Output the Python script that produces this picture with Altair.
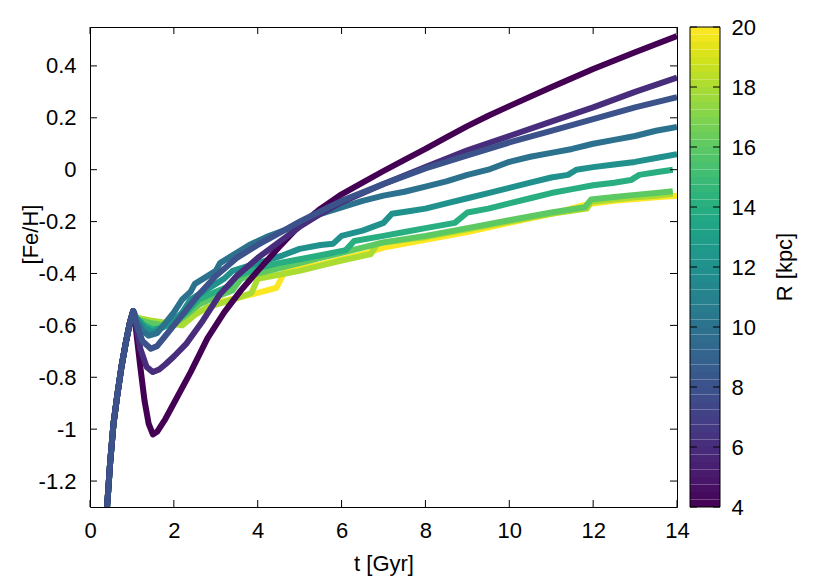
import altair as alt
import pandas as pd

# ---------------- data ----------------
RISE_T = [0.36, 0.42, 0.48, 0.56, 0.65, 0.75, 0.85, 0.95, 1.03]
RISE_FEH = [-1.40, -1.27, -1.13, -0.98, -0.87, -0.76, -0.67, -0.59, -0.545]

T_R4 = [1.1, 1.2, 1.3, 1.4, 1.5, 1.6, 1.8, 2.0, 2.4, 2.8, 3.2, 3.6, 4.0, 4.5, 5.0, 5.5,
        6.0, 6.5, 7.0, 7.5, 8.0, 8.5, 9.0, 9.5, 10.0, 11.0, 12.0, 13.0, 14.0]
FEH_R4 = [-0.62, -0.76, -0.89, -0.98, -1.02, -1.01, -0.96, -0.90, -0.78, -0.65, -0.55, -0.465,
          -0.39, -0.30, -0.215, -0.15, -0.095, -0.05, -0.005, 0.038, 0.08, 0.125, 0.168,
          0.208, 0.245, 0.318, 0.388, 0.453, 0.515]

T_R6 = [1.1, 1.2, 1.35, 1.5, 1.65, 1.8, 2.0, 2.3, 2.7, 3.1, 3.5, 4.0, 4.5, 5.0, 5.5, 6.0,
        7.0, 8.0, 9.0, 10.0, 11.0, 12.0, 13.0, 14.0]
FEH_R6 = [-0.60, -0.69, -0.76, -0.78, -0.77, -0.75, -0.72, -0.67, -0.58, -0.48, -0.41, -0.34,
          -0.28, -0.22, -0.17, -0.125, -0.055, 0.01, 0.075, 0.13, 0.185, 0.24, 0.30, 0.355]

T_R8 = [1.1, 1.25, 1.45, 1.6, 1.8, 2.0, 2.3, 2.6, 3.0, 3.5, 4.0, 4.5, 5.0, 5.5, 6.0, 7.0,
        8.0, 9.0, 10.0, 11.0, 12.0, 13.0, 14.0]
FEH_R8 = [-0.59, -0.66, -0.69, -0.68, -0.64, -0.60, -0.54, -0.48, -0.41, -0.34, -0.29, -0.245,
          -0.20, -0.16, -0.12, -0.055, 0.005, 0.055, 0.105, 0.15, 0.195, 0.24, 0.28]

T_R10 = [1.1, 1.25, 1.4, 1.6, 1.8, 2.0, 2.2, 2.4, 2.5, 2.8, 3.0, 3.1, 3.4, 3.8, 4.2, 4.6,
         5.0, 5.5, 6.0, 6.5, 7.0, 7.5, 8.0, 8.5, 9.0, 9.5, 10.0, 10.5, 11.0, 11.5, 12.0,
         12.5, 13.0, 13.5, 14.0]
FEH_R10 = [-0.58, -0.62, -0.64, -0.63, -0.59, -0.55, -0.50, -0.47, -0.44, -0.41, -0.39, -0.36,
           -0.33, -0.29, -0.26, -0.235, -0.21, -0.17, -0.145, -0.12, -0.10, -0.085, -0.065,
           -0.045, -0.02, 0.0, 0.03, 0.05, 0.065, 0.08, 0.10, 0.115, 0.13, 0.15, 0.165]

T_R12 = [1.1, 1.3, 1.5, 1.7, 2.0, 2.2, 2.4, 2.7, 3.0, 3.2, 3.4, 3.8, 4.2, 4.6, 5.0, 5.5,
         5.8, 6.0, 6.5, 7.0, 7.2, 7.6, 8.0, 8.5, 9.0, 9.5, 10.0, 10.5, 11.0, 11.4, 11.6,
         12.0, 12.5, 13.0, 13.5, 14.0]
FEH_R12 = [-0.57, -0.61, -0.625, -0.61, -0.58, -0.55, -0.50, -0.47, -0.44, -0.42, -0.39,
           -0.37, -0.35, -0.33, -0.305, -0.29, -0.285, -0.255, -0.235, -0.205, -0.17, -0.16,
           -0.15, -0.13, -0.11, -0.09, -0.07, -0.05, -0.03, -0.02, 0.0, 0.01, 0.02, 0.03,
           0.045, 0.06]

T_R14 = [1.1, 1.3, 1.5, 1.7, 2.0, 2.3, 2.6, 3.0, 3.3, 3.5, 4.0, 4.5, 5.0, 5.5, 6.1, 6.3,
         7.0, 7.5, 8.0, 8.7, 9.0, 9.5, 10.0, 10.5, 11.0, 11.5, 12.0, 12.5, 12.9, 13.1,
         13.5, 13.9]
FEH_R14 = [-0.57, -0.60, -0.615, -0.61, -0.59, -0.55, -0.50, -0.47, -0.45, -0.41, -0.38,
           -0.36, -0.345, -0.33, -0.31, -0.275, -0.255, -0.24, -0.225, -0.205, -0.165,
           -0.15, -0.13, -0.11, -0.09, -0.075, -0.06, -0.05, -0.04, -0.02, -0.01, 0.0]

T_R16 = [1.1, 1.4, 1.8, 2.0, 2.3, 2.6, 3.0, 3.4, 3.6, 4.0, 4.5, 5.0, 5.5, 6.0, 6.5, 7.0,
         8.0, 9.0, 10.0, 11.0, 11.8, 11.95, 12.5, 13.0, 13.5, 13.9]
FEH_R16 = [-0.575, -0.59, -0.60, -0.595, -0.56, -0.52, -0.49, -0.465, -0.42, -0.40, -0.38,
           -0.36, -0.34, -0.32, -0.30, -0.28, -0.255, -0.225, -0.195, -0.165, -0.145,
           -0.115, -0.105, -0.097, -0.09, -0.083]

T_R18 = [1.1, 1.4, 1.8, 2.2, 2.5, 2.8, 3.2, 3.6, 3.85, 4.0, 4.5, 5.0, 5.5, 6.0, 6.7, 6.85,
         7.5, 8.0, 9.0, 10.0, 11.0, 11.85, 11.95, 12.5, 13.0, 13.5, 13.9]
FEH_R18 = [-0.57, -0.58, -0.59, -0.60, -0.56, -0.53, -0.51, -0.49, -0.475, -0.42, -0.405,
           -0.39, -0.37, -0.35, -0.325, -0.285, -0.27, -0.26, -0.23, -0.20, -0.17, -0.15,
           -0.125, -0.115, -0.106, -0.10, -0.093]

T_R20 = [1.1, 1.5, 2.0, 2.3, 2.7, 3.1, 3.6, 4.0, 4.45, 4.65, 5.0, 5.5, 6.0, 6.5, 7.0, 8.0,
         9.0, 10.0, 11.0, 11.7, 12.0, 12.5, 13.0, 13.5, 14.0]
FEH_R20 = [-0.57, -0.585, -0.60, -0.57, -0.54, -0.51, -0.49, -0.475, -0.455, -0.39, -0.38,
           -0.365, -0.345, -0.325, -0.30, -0.27, -0.24, -0.205, -0.17, -0.14, -0.13, -0.12,
           -0.113, -0.106, -0.10]

SERIES = {
    4: (T_R4, FEH_R4), 6: (T_R6, FEH_R6), 8: (T_R8, FEH_R8), 10: (T_R10, FEH_R10),
    12: (T_R12, FEH_R12), 14: (T_R14, FEH_R14), 16: (T_R16, FEH_R16),
    18: (T_R18, FEH_R18), 20: (T_R20, FEH_R20),
}
DRAW_ORDER = [20, 18, 16, 14, 12, 10, 4, 6, 8]

X_TICKS = [0, 2, 4, 6, 8, 10, 12, 14]
Y_TICKS = [-1.2, -1, -0.8, -0.6, -0.4, -0.2, 0, 0.2, 0.4]
CB_TICKS = [4, 6, 8, 10, 12, 14, 16, 18, 20]
R_MIN, R_MAX = 4, 20
CB_STEP = 0.25

# ---------------- tables ----------------
rows = []
for r, (ts, fs) in SERIES.items():
    for t, f in zip(RISE_T + ts, RISE_FEH + fs):
        rows.append({"t": t, "feh": f, "R": r})
df_lines = pd.DataFrame(rows)

n_bins = int((R_MAX - R_MIN) / CB_STEP)
df_cb = pd.DataFrame({
    "r0": [R_MIN + i * CB_STEP for i in range(n_bins)],
    "r1": [R_MIN + (i + 1) * CB_STEP for i in range(n_bins)],
    "R": [R_MIN + (i + 0.5) * CB_STEP for i in range(n_bins)],
})
df_xt = pd.DataFrame({"t": X_TICKS})
df_yt = pd.DataFrame({"feh": Y_TICKS})
df_cbt = pd.DataFrame({"r0": CB_TICKS})
df_one = pd.DataFrame({"k": [0]})

W, H = 587, 480
FONT = "Liberation Sans"
FS = 22
TICK = 7
CB_X0, CB_X1 = 600, 630

x_scale = alt.Scale(domain=[0, 14], nice=False, zero=False)
y_scale = alt.Scale(domain=[-1.3, 0.55], nice=False, zero=False)
cb_scale = alt.Scale(domain=[R_MIN, R_MAX], nice=False, zero=False)
color_scale = alt.Scale(scheme="viridis", domain=[R_MIN, R_MAX])

x_axis = alt.Axis(values=X_TICKS, title="t [Gyr]", ticks=False, tickSize=0, domain=False,
                  grid=False, labelPadding=13, titlePadding=12, labelFlush=False,
                  labelOverlap=False, labelExpr="'' + datum.value")
y_axis = alt.Axis(values=Y_TICKS, title="[Fe/H]", ticks=False, tickSize=0, domain=False,
                  grid=False, labelPadding=14, labelFlush=False, labelOverlap=False,
                  labelExpr="'' + datum.value", titleAngle=270, titleAlign="center",
                  titleBaseline="middle", titleX=-60, titleY=207)
cb_axis = alt.Axis(orient="right", offset=CB_X1 - W, values=CB_TICKS, title=None,
                   ticks=False, tickSize=0, domain=False, grid=False, labelPadding=11,
                   labelFlush=False, labelOverlap=False)

X = alt.X("t:Q", scale=x_scale, axis=x_axis)
Y = alt.Y("feh:Q", scale=y_scale, axis=y_axis)
YCB = alt.Y("r0:Q", scale=cb_scale, axis=cb_axis)

line_layers = []
for r in DRAW_ORDER:
    line_layers.append(
        alt.Chart(df_lines)
        .transform_filter(alt.datum.R == r)
        .mark_line(strokeWidth=6, clip=True, strokeJoin="round")
        .encode(
            x=X, y=Y,
            color=alt.Color("R:Q", scale=color_scale, legend=None),
            order=alt.Order("t:Q"),
        )
    )

tick_style = dict(color="black", strokeWidth=1)
xt_bottom = alt.Chart(df_xt).mark_rule(**tick_style).encode(
    x=X, y=alt.value(H), y2=alt.value(H - TICK))
xt_top = alt.Chart(df_xt).mark_rule(**tick_style).encode(
    x=X, y=alt.value(0), y2=alt.value(TICK))
yt_left = alt.Chart(df_yt).mark_rule(**tick_style).encode(
    y=Y, x=alt.value(0), x2=alt.value(TICK))
yt_right = alt.Chart(df_yt).mark_rule(**tick_style).encode(
    y=Y, x=alt.value(W), x2=alt.value(W - TICK))

main = alt.layer(*line_layers, xt_bottom, xt_top, yt_left, yt_right)

cb_rect = alt.Chart(df_cb).mark_rect().encode(
    x=alt.value(CB_X0), x2=alt.value(CB_X1),
    y=YCB, y2="r1:Q",
    color=alt.Color("R:Q", scale=color_scale, legend=None),
)
cb_border = alt.Chart(df_one).mark_rect(fillOpacity=0, stroke="black", strokeWidth=1).encode(
    x=alt.value(CB_X0), x2=alt.value(CB_X1), y=alt.value(0), y2=alt.value(H))
cb_tl = alt.Chart(df_cbt).mark_rule(**tick_style).encode(
    y=YCB, x=alt.value(CB_X0), x2=alt.value(CB_X0 + TICK))
cb_tr = alt.Chart(df_cbt).mark_rule(**tick_style).encode(
    y=YCB, x=alt.value(CB_X1), x2=alt.value(CB_X1 - TICK))
cb_title = alt.Chart(df_one).mark_text(
    text="R [kpc]", angle=270, fontSize=FS, font=FONT, color="black",
    align="center", baseline="middle",
).encode(x=alt.value(695), y=alt.value(H / 2))

cbar = alt.layer(cb_rect, cb_border, cb_tl, cb_tr, cb_title)

chart = (
    alt.layer(main, cbar)
    .resolve_scale(y="independent")
    .resolve_axis(y="independent")
    .properties(width=W, height=H,
                padding={"left": 11, "top": 8, "right": 5, "bottom": 5})
    .configure_view(stroke="black", strokeWidth=1)
    .configure_axis(labelFont=FONT, titleFont=FONT, labelFontSize=FS, titleFontSize=FS,
                    titleFontWeight="normal", labelColor="black", titleColor="black")
)

chart.save("out.html", embed_options={"renderer": "svg", "actions": False})
